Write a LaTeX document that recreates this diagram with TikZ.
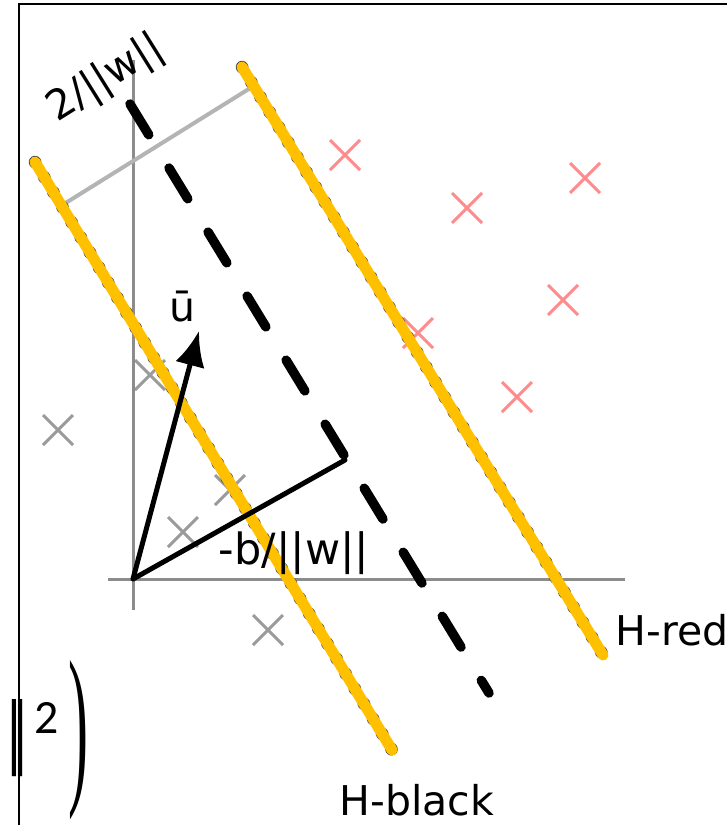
\documentclass[tikz,border=0pt]{standalone}
\usepackage{fontspec}
\usepackage{graphicx}
\setmainfont{DejaVu Sans}
\newfontfamily\fragserif{Liberation Serif}
\newfontfamily\fragsans{Carlito}
\usetikzlibrary{arrows.meta}
\definecolor{gold}{HTML}{FFC000}
\definecolor{axisgray}{HTML}{8C8C8C}
\definecolor{margray}{HTML}{B4B4B4}
\definecolor{crossgray}{HTML}{8A8A8A}
\definecolor{crossred}{HTML}{FF8C8C}
\tikzset{
  hyper/.style={line width=11pt, gold, line cap=round},
  hyperedge/.style={line width=12.5pt, black!70, line cap=round, dash pattern=on 0.6pt off 17pt},
  midline/.style={line width=9.5pt, black, line cap=round, dash pattern=on 36pt off 39pt},
  axisline/.style={line width=3pt, axisgray},
  marginline/.style={line width=4pt, margray},
  vecline/.style={line width=5pt, black},
  lbl/.style={font=\fontsize{41}{48}\selectfont, inner sep=0pt},
  xgray/.style={line width=3pt, crossgray, opacity=0.85},
  xred/.style={line width=3pt, crossred},
  frame/.style={line width=2pt, black}
}
\begin{document}
\begin{tikzpicture}[x=1pt, y=-1pt]
\useasboundingbox (0,0) rectangle (727,825);
% frame
\coordinate (FL) at (19,825);
\coordinate (FC) at (19,4);
\coordinate (FR) at (727,4);
\draw[frame] (FL) -- (FC) -- (FR);
% axes
\coordinate (O) at (133,579);
\coordinate (XA) at (108,579);
\coordinate (XB) at (625,579);
\coordinate (YA) at (133,610);
\coordinate (YB) at (133,60);
\draw[axisline] (XA) -- (XB);
\draw[axisline] (YA) -- (YB);
% crosses
\foreach \p in {(58,430),(150,375),(230,490),(183,532),(268,630)}
  \draw[xgray] \p +(-15,-15) -- +(15,15) \p +(-15,15) -- +(15,-15);
\foreach \p in {(345,155),(467,208),(585,178),(418,333),(563,300),(517,397)}
  \draw[xred] \p +(-15,-15) -- +(15,15) \p +(-15,15) -- +(15,-15);
% margin line
\coordinate (M1) at (64,204);
\coordinate (M2) at (252,87);
\draw[marginline] (M1) -- (M2);
% hyperplanes
\coordinate (BA) at (35,162);
\coordinate (BB) at (392,750);
\coordinate (RA) at (242,67);
\coordinate (RB) at (603,655);
\coordinate (DA) at (130,104);
\coordinate (DB) at (489,693);
\draw[hyperedge] (BA) -- (BB);
\draw[hyper] (BA) -- (BB);
\draw[hyperedge] (RA) -- (RB);
\draw[hyper] (RA) -- (RB);
\draw[midline] (DA) -- (DB);
% vectors
\coordinate (U) at (199,331);
\coordinate (P) at (345,460);
\draw[vecline, -{Latex[length=35pt, width=30pt]}] (O) -- (U);
\draw[vecline, line cap=round] (O) -- (P);
% labels
\node[lbl, rotate=32] (lw) at (106,79) {2/||w||};
\node[lbl] (lu) at (182,307) {ū};
\node[lbl, font=\fontsize{43}{48}\selectfont] (lb) at (294,553) {-b/||w||};
\node[lbl] (lr) at (672,630) {H-red};
\node[lbl] (lk) at (417,800) {H-black};
% formula fragment
\node[inner sep=0pt] (fn) at (17,738) {\resizebox{19pt}{59pt}{\bfseries ‖}};
\node[inner sep=0pt] (fs) at (47,718) {\resizebox{!}{31pt}{\fragsans 2}};
\node[inner sep=0pt] (fp) at (78,740) {\resizebox{20pt}{122pt}{\fragserif )}};
\end{tikzpicture}
\end{document}
